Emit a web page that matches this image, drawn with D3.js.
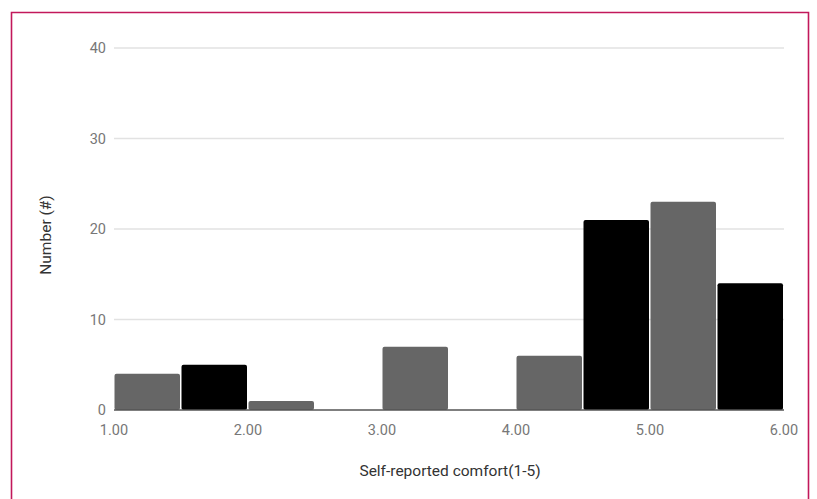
<!DOCTYPE html>
<html>
<head>
<meta charset="utf-8">
<script src="https://cdn.jsdelivr.net/npm/d3@7"></script>
<style>
  html, body { margin: 0; padding: 0; background: #fff; }
  svg { display: block; }
</style>
</head>
<body>
<svg id="chart" width="817" height="499"></svg>
<script>
// Histogram bins of self-reported comfort (bin width 0.5)
const binStarts = [1.0, 1.5, 2.0, 2.5, 3.0, 3.5, 4.0, 4.5, 5.0, 5.5];
const binCounts = [4, 5, 1, 0, 7, 0, 6, 21, 23, 14];
const binShades = ["gray", "black", "gray", "gray", "gray", "gray", "gray", "black", "gray", "black"];
const xTicks = [1, 2, 3, 4, 5, 6];
const yTicks = [0, 10, 20, 30, 40];
const binWidth = 0.5;

const svg = d3.select("#chart");
const W = 817, H = 499;
const m = { left: 114, right: 33, top: 48, bottom: 89 };

// Frame
svg.append("path")
  .attr("d", `M11.5,${H + 2} V12.5 H808.5 V${H + 2}`)
  .attr("fill", "none")
  .attr("stroke", "#c2185b")
  .attr("stroke-width", 1.6);

const x = d3.scaleLinear().domain([1, 6]).range([m.left, W - m.right]);
const y = d3.scaleLinear().domain([0, 40]).range([H - m.bottom, m.top]);

const fontFamily = "Roboto, 'Noto Sans', sans-serif";

// Gridlines
svg.append("g")
  .selectAll("line")
  .data(yTicks.filter(d => d > 0))
  .join("line")
  .attr("x1", x(1)).attr("x2", x(6))
  .attr("y1", d => y(d)).attr("y2", d => y(d))
  .attr("stroke", "#e2e2e2")
  .attr("stroke-width", 1.5);

// Bars
const colors = { gray: "#666666", black: "#000000" };
svg.append("g")
  .selectAll("rect")
  .data(binStarts.map((s, i) => ({ s, c: binCounts[i], shade: binShades[i] })).filter(d => d.c > 0))
  .join("rect")
  .attr("x", d => x(d.s) + 0.5)
  .attr("width", d => x(d.s + binWidth) - x(d.s) - 1.5)
  .attr("y", d => y(d.c))
  .attr("height", d => y(0) - y(d.c))
  .attr("rx", 2)
  .attr("fill", d => colors[d.shade]);

// Baseline
svg.append("line")
  .attr("x1", x(1)).attr("x2", x(6))
  .attr("y1", y(0)).attr("y2", y(0))
  .attr("stroke", "#555")
  .attr("stroke-width", 1.5);

// Y tick labels
svg.append("g")
  .selectAll("text")
  .data(yTicks)
  .join("text")
  .attr("x", 106)
  .attr("y", d => y(d))
  .attr("dy", "0.35em")
  .attr("text-anchor", "end")
  .attr("font-family", fontFamily)
  .attr("font-size", 14.5)
  .attr("fill", "#777")
  .text(d => d);

// X tick labels
svg.append("g")
  .selectAll("text")
  .data(xTicks)
  .join("text")
  .attr("x", d => x(d))
  .attr("y", 435)
  .attr("text-anchor", "middle")
  .attr("font-family", fontFamily)
  .attr("font-size", 14.5)
  .attr("fill", "#777")
  .text(d => d3.format(".2f")(d));

// Axis titles
svg.append("text")
  .attr("x", 450)
  .attr("y", 476)
  .attr("text-anchor", "middle")
  .attr("font-family", fontFamily)
  .attr("font-size", 15.5)
  .attr("fill", "#333")
  .text("Self-reported comfort(1-5)");

svg.append("text")
  .attr("transform", `translate(51,${y(20) + 6}) rotate(-90)`)
  .attr("text-anchor", "middle")
  .attr("font-family", fontFamily)
  .attr("font-size", 15.5)
  .attr("fill", "#333")
  .text("Number (#)");
</script>
</body>
</html>
